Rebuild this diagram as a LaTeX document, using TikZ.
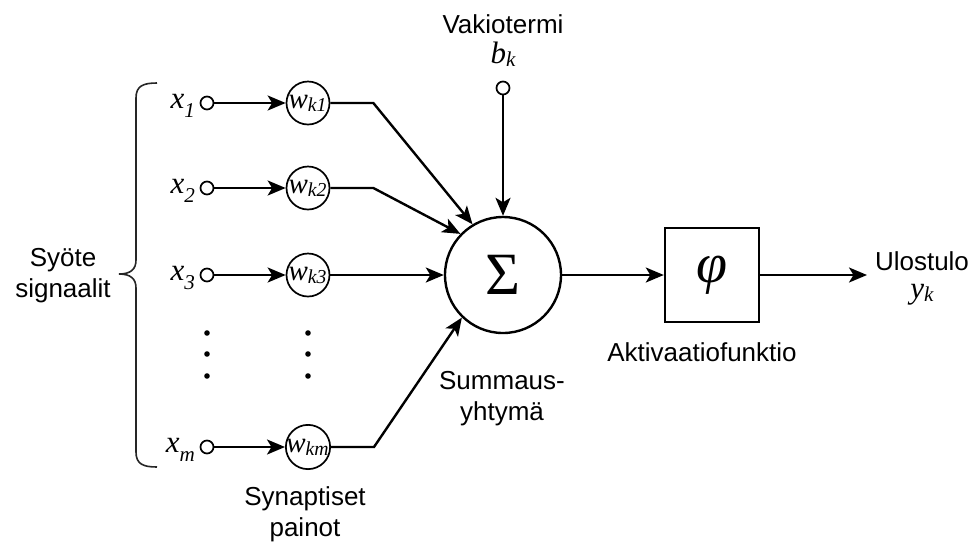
\documentclass[tikz,border=0pt]{standalone}
\usepackage{fontspec}
\newfontfamily\labelfont{Liberation Sans}
\newfontfamily\serfont{Liberation Serif}
\usetikzlibrary{arrows.meta, positioning}

% lowered, smaller index (x_1, w_k1, b_k ...)
\newcommand{\idx}[2][0.1em]{\raisebox{-#1}{\scalebox{0.68}{#2}}}

\begin{document}
\begin{tikzpicture}[
  x=1pt, y=-1pt,
  line width=2.4pt,
  txt/.style={font=\labelfont\fontsize{26}{31}\selectfont, align=center, inner sep=0pt},
  sym/.style={font=\serfont\itshape\fontsize{31}{31}\selectfont, inner sep=0pt},
  inport/.style={draw, circle, fill=white, minimum size=13pt, inner sep=0pt, line width=1.7pt},
  weight/.style={draw, circle, minimum size=43pt, inner sep=0pt, line width=1.7pt,
                 font=\serfont\itshape\fontsize{29}{29}\selectfont},
  sumnode/.style={draw, circle, minimum size=116pt, inner sep=0pt},
  actbox/.style={draw, minimum size=94pt, inner sep=0pt},
  arr/.style={-{Stealth[length=18pt, width=15pt, inset=4.5pt]}}
]
\useasboundingbox (0,0) rectangle (978,542);

% summing junction, bias and activation
\node[sumnode] (sum) at (503,275) {\serfont\fontsize{60}{60}\selectfont Σ};
\node[inport] (bias) at (503,88) {};
\node[actbox] (act) at (712,275) {\serfont\itshape\fontsize{56}{56}\selectfont φ};
\coordinate (outend) at (867,275);

% input signals with their synaptic weights
\foreach \i/\y in {1/103, 2/188, 3/275, m/447} {
  \node[inport] (x\i) at (207,\y) {};
  \node[sym, anchor=base east] (xl\i) at (196,\y+5) {x\idx[0.3em]{\i}};
  \node[weight] (w\i) at (308,\y) {\kern-1pt w\idx{k\i}};
  \draw[arr] (x\i) -- (w\i);
}

% dots for the left-out rows
\foreach \y in {333,354,376} {
  \fill (207,\y) circle (2.8);
  \fill (308,\y) circle (2.8);
}

% weighted inputs into the sum
\draw[arr] (w1.east) -- ++(43,0) -- (sum.121);
\draw[arr] (w2.east) -- ++(43,0) -- (sum.136);
\draw[arr] (w3) -- (sum);
\draw[arr] (wm.east) -- ++(43,0) -- (sum.226);
\draw[arr] (bias) -- (sum);
\draw[arr] (sum) -- (act);
\draw[arr] (act) -- (outend);

% brace round the inputs
\draw[line width=1.6pt, black!85]
  (157,83) .. controls (143,83) and (136,86) .. (136,98) -- (136,260)
  .. controls (136,269) and (131,274) .. (119,274)
  .. controls (131,274) and (136,279) .. (136,288) -- (136,452)
  .. controls (136,464) and (143,467) .. (157,467);

% labels
\node[txt] (insig) at (63,276) {Syöte\\signaalit};
\node[txt] (wlbl) at (305,514) {Synaptiset\\painot};
\node[txt] (sumlbl) at (502,399) {Summaus-\\yhtymä};
\node[txt, anchor=base] (actlbl) at (702,361) {Aktivaatiofunktio};
\node[txt, anchor=base] (outlbl) at (922,270) {Ulostulo};
\node[sym, anchor=base] (yk) at (922,298) {y\idx{k}};
\node[txt, anchor=base] (biaslbl) at (503,33) {Vakiotermi};
\node[sym, anchor=base] (bk) at (503,63) {b\idx{k}};

\end{tikzpicture}
\end{document}
